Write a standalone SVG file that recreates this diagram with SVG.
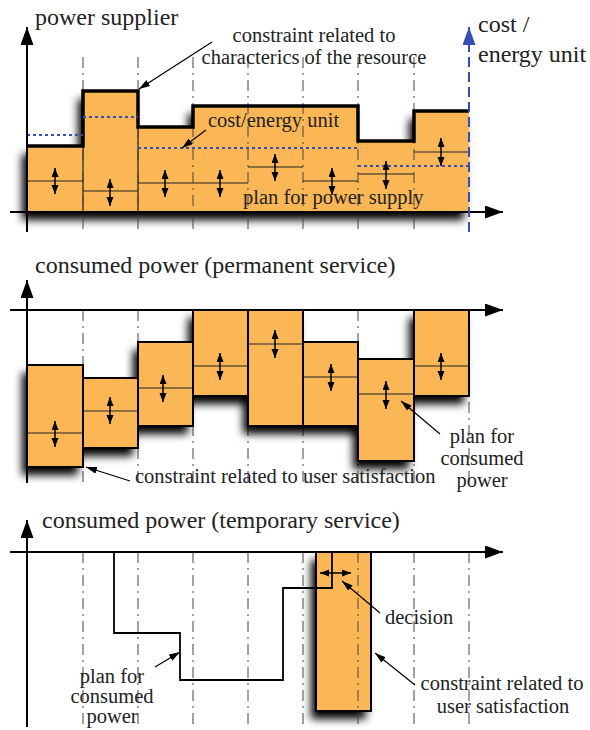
<svg xmlns="http://www.w3.org/2000/svg" width="590" height="730" viewBox="0 0 590 730">
<defs>
<style>
.ti{font-size:24px}
.lb{font-size:20.5px}
.fill{fill:#FBB755}
.box{fill:#FBB755;stroke:#000;stroke-width:2}
.ax{stroke:#000;stroke-width:2;fill:none}
.dd{stroke:#444;stroke-width:1;stroke-dasharray:11 5 2 5;fill:none}
.pl{stroke:#222;stroke-width:1.2;fill:none}
.da{stroke:#000;stroke-width:1.5;fill:none;marker-start:url(#dh);marker-end:url(#dh)}
.an{stroke:#000;stroke-width:1.2;fill:none;marker-end:url(#ah)}
.bl{stroke:#3a4db5;stroke-width:2;stroke-dasharray:3 3;fill:none}
</style>
<marker id="axh" markerUnits="userSpaceOnUse" markerWidth="20" markerHeight="14" refX="18" refY="6.5" orient="auto"><path d="M0,0 L18,6.5 L0,13 z" fill="#000"/></marker>
<marker id="axb" markerUnits="userSpaceOnUse" markerWidth="20" markerHeight="14" refX="18" refY="6.5" orient="auto"><path d="M0,0 L18,6.5 L0,13 z" fill="#3a4db5"/></marker>
<marker id="ah" markerUnits="userSpaceOnUse" markerWidth="12" markerHeight="8" refX="11" refY="3.5" orient="auto"><path d="M0,0 L11,3.5 L0,7 z" fill="#000"/></marker>
<marker id="dh" markerUnits="userSpaceOnUse" markerWidth="10" markerHeight="8" refX="9" refY="3.5" orient="auto-start-reverse"><path d="M0,0 L9,3.5 L0,7 z" fill="#000"/></marker>
<filter id="sh" x="-30%" y="-30%" width="160%" height="170%">
<feGaussianBlur in="SourceAlpha" stdDeviation="4.5" result="b"/>
<feOffset in="b" dx="-5" dy="8" result="o"/>
<feComponentTransfer in="o" result="s"><feFuncA type="linear" slope="1"/></feComponentTransfer>
<feMerge><feMergeNode in="s"/><feMergeNode in="SourceGraphic"/></feMerge>
</filter>
</defs>
<rect width="590" height="730" fill="#fff"/>
<g font-family="Liberation Serif, Times New Roman, DejaVu Serif, serif" fill="#222">

<!-- TOP PANEL -->
<g id="power-supplier">
<path class="fill" filter="url(#sh)" d="M27,212 V146 H83 V91 H138 V127 H193 V106 H358 V141 H414 V111 H469 V212 Z"/>
<path class="pl" d="M83,146 V212 M138,127 V212"/>
<path class="dd" d="M83,57 V232 M138,57 V232 M193,57 V232 M248,57 V232 M303,57 V232 M358,57 V232 M414,57 V232"/>
<path d="M27,146 H83 V91 H138 V127 H193 V106 H358 V141 H414 V111 H469" stroke="#000" stroke-width="3.5" fill="none"/>
<path class="bl" d="M27,135 H83 M83,117 H138 M138,148 H358 M358,166 H469"/>
<path class="pl" d="M27,181 H83 M83,191 H138 M138,183 H248 M248,167 H303 M303,181 H358 M358,174 H414 M414,152 H469"/>
<line class="da" x1="55" y1="168" x2="55" y2="194"/>
<line class="da" x1="110" y1="179" x2="110" y2="206"/>
<line class="da" x1="165" y1="170" x2="165" y2="197"/>
<line class="da" x1="220" y1="170" x2="220" y2="197"/>
<line class="da" x1="275" y1="154" x2="275" y2="181"/>
<line class="da" x1="332" y1="168" x2="332" y2="195"/>
<line class="da" x1="386" y1="161" x2="386" y2="189"/>
<line class="da" x1="441" y1="138" x2="441" y2="166"/>
<line class="ax" x1="27" y1="232" x2="27" y2="27" marker-end="url(#axh)"/>
<line class="ax" x1="10" y1="212" x2="503" y2="212" marker-end="url(#axh)"/>
<line x1="469" y1="232" x2="469" y2="27" stroke="#3a4db5" stroke-width="2" stroke-dasharray="10 5" marker-end="url(#axb)"/>
<text class="ti" x="35" y="25">power supplier</text>
<text class="ti" x="478" y="32">cost /</text>
<text class="ti" x="478" y="62">energy unit</text>
</g>
<g id="label-constraint-resource">
<text class="lb" x="314" y="42" text-anchor="middle">constraint related to</text>
<text class="lb" x="314" y="64" text-anchor="middle">characterics of the resource</text>
</g>
<g id="label-cost">
<text class="lb" x="208" y="127">cost/energy unit</text>
</g>
<g id="label-plan-supply">
<text class="lb" x="243" y="204">plan for power supply</text>
</g>

<!-- MIDDLE PANEL -->
<g id="permanent-service">
<path class="dd" d="M83,310 V483 M138,310 V483 M193,310 V483 M248,310 V483 M303,310 V483 M358,310 V483 M414,310 V483 M469,310 V483"/>
<g filter="url(#sh)">
<rect class="fill" x="27" y="365" width="56" height="102"/>
<rect class="fill" x="83" y="378" width="55" height="70"/>
<rect class="fill" x="138" y="342" width="55" height="84"/>
<rect class="fill" x="193" y="310" width="55" height="86"/>
<rect class="fill" x="248" y="310" width="55" height="116"/>
<rect class="fill" x="303" y="342" width="55" height="84"/>
<rect class="fill" x="358" y="359" width="56" height="102"/>
<rect class="fill" x="414" y="310" width="55" height="86"/>
</g>
<g id="pbox0"><rect class="box" x="27" y="365" width="56" height="102"/><path class="pl" d="M27,433 H83"/><line class="da" x1="55" y1="421" x2="55" y2="447"/></g>
<g id="pbox1"><rect class="box" x="83" y="378" width="55" height="70"/><path class="pl" d="M83,411 H138"/><line class="da" x1="110" y1="397" x2="110" y2="424"/></g>
<g id="pbox2"><rect class="box" x="138" y="342" width="55" height="84"/><path class="pl" d="M138,388 H193"/><line class="da" x1="163" y1="375" x2="163" y2="402"/></g>
<g id="pbox3"><rect class="box" x="193" y="310" width="55" height="86"/><path class="pl" d="M193,366 H248"/><line class="da" x1="220" y1="353" x2="220" y2="380"/></g>
<g id="pbox4"><rect class="box" x="248" y="310" width="55" height="116"/><path class="pl" d="M248,344 H303"/><line class="da" x1="275" y1="330" x2="275" y2="358"/></g>
<g id="pbox5"><rect class="box" x="303" y="342" width="55" height="84"/><path class="pl" d="M303,377 H358"/><line class="da" x1="331" y1="364" x2="331" y2="391"/></g>
<g id="pbox6"><rect class="box" x="358" y="359" width="56" height="102"/><path class="pl" d="M358,394 H414"/><line class="da" x1="386" y1="381" x2="386" y2="409"/></g>
<g id="pbox7"><rect class="box" x="414" y="310" width="55" height="86"/><path class="pl" d="M414,366 H469"/><line class="da" x1="441" y1="353" x2="441" y2="380"/></g>
<line class="ax" x1="27" y1="483" x2="27" y2="280" marker-end="url(#axh)"/>
<line class="ax" x1="10" y1="310" x2="503" y2="310" marker-end="url(#axh)"/>
<text class="ti" x="35" y="273">consumed power (permanent service)</text>
</g>
<g id="label-user-sat-1">
<text class="lb" x="135" y="483">constraint related to user satisfaction</text>
</g>
<g id="label-plan-consumed-1">
<text class="lb" x="482" y="443" text-anchor="middle">plan for</text>
<text class="lb" x="482" y="465" text-anchor="middle">consumed</text>
<text class="lb" x="482" y="487" text-anchor="middle">power</text>
</g>

<!-- BOTTOM PANEL -->
<g id="temporary-service">
<rect class="fill" filter="url(#sh)" x="316" y="552" width="55" height="159"/>
<rect x="316" y="552" width="55" height="159" fill="none" stroke="#000" stroke-width="2"/>
<path class="dd" d="M83,552 V725 M138,552 V725 M193,552 V725 M248,552 V725 M303,552 V725 M358,552 V725 M414,552 V725 M469,552 V725"/>
<path d="M114,552 V633 H180 V680 H283 V588 H332 V552" stroke="#000" stroke-width="1.8" fill="none"/>
<line class="da" x1="320" y1="573" x2="351" y2="573"/>
<line class="ax" x1="27" y1="727" x2="27" y2="520" marker-end="url(#axh)"/>
<line class="ax" x1="10" y1="552" x2="503" y2="552" marker-end="url(#axh)"/>
<text class="ti" x="42" y="528">consumed power (temporary service)</text>
</g>
<g id="label-decision">
<text class="lb" x="385" y="624">decision</text>
</g>
<g id="label-user-sat-2">
<text class="lb" x="502" y="690" text-anchor="middle">constraint related to</text>
<text class="lb" x="503" y="713" text-anchor="middle">user satisfaction</text>
</g>
<g id="label-plan-consumed-2">
<text class="lb" x="112" y="683" text-anchor="middle">plan for</text>
<text class="lb" x="112" y="703" text-anchor="middle">consumed</text>
<text class="lb" x="112" y="723" text-anchor="middle">power</text>
</g>
</g>

<g id="connectors">
<line class="an" x1="212" y1="42" x2="139" y2="89"/>
<line class="an" x1="206" y1="130" x2="182" y2="148"/>
<line class="an" x1="130" y1="481" x2="86" y2="467"/>
<line class="an" x1="440" y1="434" x2="401" y2="401"/>
<line class="an" x1="155" y1="667" x2="180" y2="652"/>
<line class="an" x1="380" y1="613" x2="342" y2="581"/>
<line class="an" x1="415" y1="685" x2="375" y2="653"/>
</g>
</svg>
